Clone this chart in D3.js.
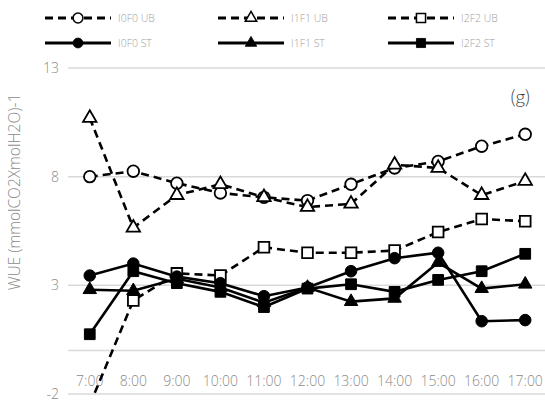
<!DOCTYPE html>
<html lang="en">
<head>
	<meta charset="utf-8">
	<title>WUE (g)</title>
	<style type="text/css">
		body { margin: 0; background: #fff; }
		svg text { font-family: "Open Sans", Lato, sans-serif; font-weight: 300; }
		svg text.panel { font-family: Lato, "Open Sans", sans-serif; }
	</style>
</head>
<body>
	<div id="content"></div>

	<script src="https://cdnjs.cloudflare.com/ajax/libs/d3/7.8.5/d3.min.js"></script>
	<script type="text/javascript">
		// categories and y ticks
		var hours = ["7:00", "8:00", "9:00", "10:00", "11:00", "12:00", "13:00", "14:00", "15:00", "16:00", "17:00"];
		var yTicks = [-2, 3, 8, 13];

		// series values
		var i0f0UB = [8.0, 8.25, 7.7, 7.25, 7.05, 6.9, 7.65, 8.4, 8.7, 9.4, 9.95];
		var i1f1UB = [10.7, 5.65, 7.15, 7.65, 7.05, 6.6, 6.75, 8.55, 8.4, 7.15, 7.8];
		var i2f2UB = [-2.5, 2.3, 3.55, 3.45, 4.75, 4.5, 4.5, 4.6, 5.45, 6.05, 5.95];
		var i0f0ST = [3.45, 4.0, 3.4, 3.1, 2.5, 2.9, 3.65, 4.25, 4.5, 1.35, 1.4];
		var i1f1ST = [2.8, 2.75, 3.3, 2.9, 2.2, 2.9, 2.25, 2.4, 4.05, 2.85, 3.05];
		var i2f2ST = [0.75, 3.65, 3.1, 2.7, 2.0, 2.85, 3.05, 2.7, 3.25, 3.65, 4.45];

		var seriesNames = ["I0F0 UB", "I1F1 UB", "I2F2 UB", "I0F0 ST", "I1F1 ST", "I2F2 ST"];
		var series = [
			{ name: seriesNames[0], values: i0f0UB, dashed: true, shape: "circle" },
			{ name: seriesNames[1], values: i1f1UB, dashed: true, shape: "triangle" },
			{ name: seriesNames[2], values: i2f2UB, dashed: true, shape: "square" },
			{ name: seriesNames[3], values: i0f0ST, dashed: false, shape: "circle" },
			{ name: seriesNames[4], values: i1f1ST, dashed: false, shape: "triangle" },
			{ name: seriesNames[5], values: i2f2ST, dashed: false, shape: "square" }
		];

		var w = 545, h = 405;
		var plotL = 68, plotR = 547, plotT = 68, plotB = 394;

		var svg = d3.select("#content").append("svg")
			.attr("width", w)
			.attr("height", h);

		var x = d3.scalePoint().domain(hours).range([plotL, plotR]).padding(0.5);
		var y = d3.scaleLinear().domain([-2, 13]).range([plotB, plotT]);

		svg.append("defs").append("clipPath").attr("id", "plot")
			.append("rect").attr("x", plotL).attr("y", plotT - 12).attr("width", plotR - plotL).attr("height", plotB - plotT + 12);

		// gridlines
		svg.selectAll(".grid").data(yTicks).enter().append("line")
			.attr("x1", plotL).attr("x2", plotR)
			.attr("y1", d => y(d)).attr("y2", d => y(d))
			.attr("stroke", "#d9d9d9").attr("stroke-width", 1.5);

		// horizontal axis at zero
		svg.append("line")
			.attr("x1", plotL).attr("x2", plotR)
			.attr("y1", y(0)).attr("y2", y(0))
			.attr("stroke", "#d9d9d9").attr("stroke-width", 1.5);

		// y tick labels
		svg.selectAll(".ytick").data(yTicks).enter().append("text")
			.attr("x", 59).attr("y", d => y(d) + 5)
			.attr("text-anchor", "end")
			.attr("font-size", 14).attr("fill", "#8a8a8a")
			.text(d => d);

		// x tick labels
		svg.selectAll(".xtick").data(hours).enter().append("text")
			.attr("x", d => x(d)).attr("y", 386)
			.attr("text-anchor", "middle")
			.attr("font-size", 14).attr("fill", "#8a8a8a")
			.text(d => d);

		// axis title
		svg.append("text")
			.attr("transform", "translate(20,192) rotate(-90)")
			.attr("text-anchor", "middle")
			.attr("font-size", 15.5).attr("fill", "#8a8a8a")
			.text("WUE (mmolCO2XmolH2O)-1");

		svg.append("text")
			.attr("class", "panel")
			.attr("x", 530).attr("y", 104)
			.attr("text-anchor", "end")
			.attr("font-size", 19).attr("fill", "#404040")
			.text("(g)");

		var sym = {
			circle: d3.symbol().type(d3.symbolCircle).size(105),
			triangle: d3.symbol().type(d3.symbolTriangle).size(78),
			square: d3.symbol().type(d3.symbolSquare).size(115)
		};

		function drawMarker(g, s) {
			g.append("path")
				.attr("d", sym[s.shape]())
				.attr("fill", s.dashed ? "#fff" : "#000")
				.attr("stroke", "#000")
				.attr("stroke-width", s.dashed ? 1.8 : 1);
		}

		var line = d3.line()
			.x((d, i) => x(hours[i]))
			.y(d => y(d));

		var plot = svg.append("g").attr("clip-path", "url(#plot)");

		series.forEach(function (s) {
			var g = plot.append("g");
			g.append("path")
				.attr("d", line(s.values))
				.attr("fill", "none")
				.attr("stroke", "#000")
				.attr("stroke-width", 2.6)
				.attr("stroke-dasharray", s.dashed ? "8,5" : null);
			s.values.forEach(function (v, i) {
				var m = g.append("g").attr("transform", "translate(" + x(hours[i]) + "," + y(v) + ")");
				drawMarker(m, s);
			});
		});

		// legend
		var legCols = [45, 218, 388];
		var legRows = [18, 43];
		series.forEach(function (s, i) {
			var lx = legCols[i % 3];
			var ly = legRows[Math.floor(i / 3)];
			var g = svg.append("g").attr("transform", "translate(" + lx + "," + ly + ")");
			g.append("line")
				.attr("x1", 0).attr("x2", 66).attr("y1", 0).attr("y2", 0)
				.attr("stroke", "#000").attr("stroke-width", 2.8)
				.attr("stroke-dasharray", s.dashed ? "8,5" : null);
			var m = g.append("g").attr("transform", "translate(33,0) scale(0.85)");
			drawMarker(m, s);
			g.append("text")
				.attr("x", 73).attr("y", 4)
				.attr("font-size", 10.5).attr("fill", "#a0a0a0")
				.text(s.name);
		});
	</script>
</body>
</html>
